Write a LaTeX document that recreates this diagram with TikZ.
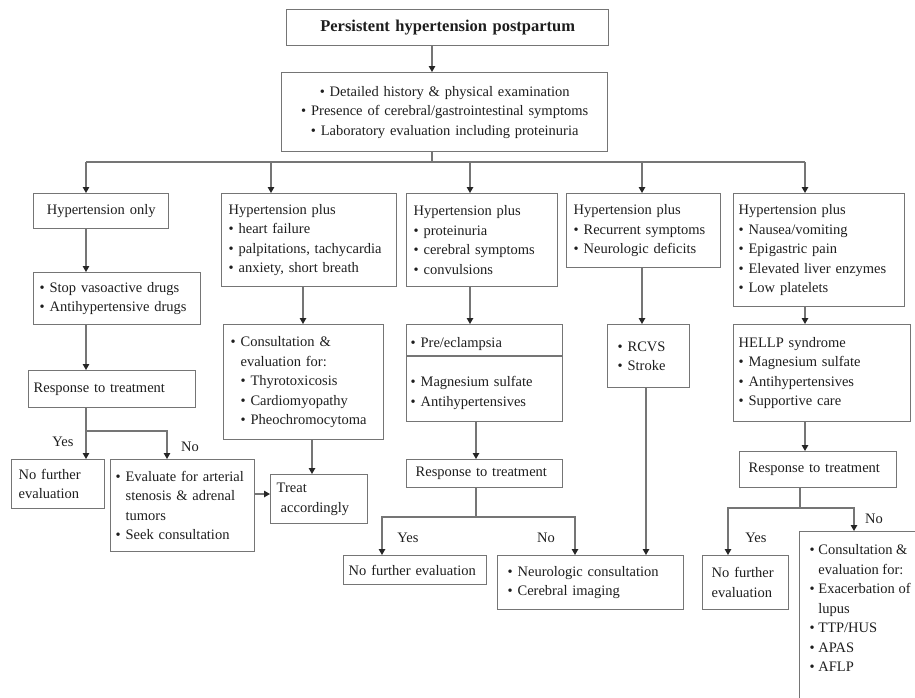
\documentclass[tikz,border=0pt]{standalone}
\usepackage{fontspec}
\setmainfont{Liberation Serif}
\usetikzlibrary{arrows.meta}
\definecolor{linegray}{HTML}{757575}
\definecolor{textgray}{HTML}{1E1E1E}
\newcommand{\bitem}{\textbullet\ }
\newcommand{\bindent}{\phantom{\textbullet\ }}
\tikzset{
    box/.style={draw=linegray,line width=1.4pt,anchor=north west,
        inner xsep=7pt,inner ysep=2pt,align=left,text=textgray,
        font=\fontsize{14.5}{19.5}\selectfont},
    conn/.style={draw=linegray,line width=1.2pt},
    arr/.style={conn,-{Triangle[length=6pt,width=6.5pt,color=black!85]}},
    lab/.style={text=textgray,inner sep=0pt,
        font=\fontsize{14.5}{19.5}\selectfont}
}
\begin{document}
\begin{tikzpicture}[x=1pt,y=-1pt]
    \useasboundingbox (0,0) rectangle (915,697);
    \clip (0,0) rectangle (915,697);
    % column positions
    \coordinate (xH) at (432,0);
    \coordinate (xA) at (86,0);
    \coordinate (xNoA) at (167,0);
    \coordinate (xB0) at (271,0);
    \coordinate (xB) at (303,0);
    \coordinate (xBt) at (312,0);
    \coordinate (xC) at (470,0);
    \coordinate (xC2) at (476,0);
    \coordinate (xYesC) at (382,0);
    \coordinate (xNoC) at (575,0);
    \coordinate (xD) at (642,0);
    \coordinate (xD2) at (646,0);
    \coordinate (xE) at (805,0);
    \coordinate (xE3) at (800,0);
    \coordinate (xYesE) at (728,0);
    \coordinate (xNoE) at (854,0);
    \coordinate (bus) at (0,162);
    \coordinate (busA) at (0,431);
    \coordinate (busC) at (0,517);
    \coordinate (busE) at (0,508);
    \coordinate (divC) at (0,356);
    \coordinate (rowT) at (0,494);

    % top
    \node[box,text width=308pt,minimum height=36pt,align=center,
        font=\fontsize{16.5}{20}\selectfont\bfseries] (top) at (286,9)
        {Persistent hypertension postpartum};
    \node[box,text width=312pt,minimum height=79pt,align=center] (hist) at (281,72)
        {\bitem Detailed history \& physical examination\\
         \bitem Presence of cerebral/gastrointestinal symptoms\\
         \bitem Laboratory evaluation including proteinuria};

    % first row
    \node[box,text width=121pt,minimum height=35pt,align=center] (a1) at (33,193)
        {Hypertension only};
    \node[box,text width=161pt,minimum height=93pt] (b1) at (221,193)
        {Hypertension plus\\\bitem heart failure\\
         \bitem palpitations, tachycardia\\\bitem anxiety, short breath};
    \node[box,text width=137pt,minimum height=93pt] (c1) at (406,193)
        {Hypertension plus\\\bitem proteinuria\\
         \bitem cerebral symptoms\\\bitem convulsions};
    \node[box,text width=140pt,minimum height=74pt] (d1) at (566,193)
        {Hypertension plus\\\bitem Recurrent symptoms\\\bitem Neurologic deficits};
    \node[box,inner xsep=5pt,text width=161pt,minimum height=113pt] (e1) at (733,193)
        {Hypertension plus\\\bitem Nausea/vomiting\\\bitem Epigastric pain\\
         \bitem Elevated liver enzymes\\\bitem Low platelets};

    % column A
    \node[box,inner xsep=6pt,text width=155pt,minimum height=52pt] (a2) at (33,272)
        {\bitem Stop vasoactive drugs\\\bitem Antihypertensive drugs};
    \node[box,inner xsep=5pt,text width=157pt,minimum height=37pt] (a3) at (28,370)
        {Response to treatment};
    \node[box,text width=79pt,minimum height=49pt] (a4) at (11,459)
        {No further\\evaluation};
    \node[box,inner xsep=5pt,text width=134pt,minimum height=92pt] (a5) at (110,459)
        {\bitem Evaluate for arterial\\\bindent stenosis \& adrenal\\
         \bindent tumors\\\bitem Seek consultation};
    \node[box,inner xsep=6pt,text width=85pt,minimum height=49pt] (treat) at (270,474)
        {Treat\\\hspace*{4pt}accordingly};

    % column B
    \node[box,text width=146pt,minimum height=115pt] (b2) at (223,324)
        {\bitem Consultation \&\\\bindent evaluation for:\\
         \bindent\bitem Thyrotoxicosis\\\bindent\bitem Cardiomyopathy\\
         \bindent\bitem Pheochromocytoma};

    % column C
    \node[box,inner xsep=4pt,text width=148pt,minimum height=97pt] (c2) at (406,324)
        {\bitem Pre/eclampsia\\[20pt]\bitem Magnesium sulfate\\\bitem Antihypertensives};
    \node[box,inner xsep=9pt,text width=138pt,minimum height=28pt] (c3) at (406,459)
        {Response to treatment};
    \node[box,inner xsep=5pt,text width=133pt,minimum height=29pt] (c4) at (343,555)
        {No further evaluation};
    \node[box,inner xsep=10pt,text width=166pt,minimum height=54pt] (c5) at (497,555)
        {\bitem Neurologic consultation\\\bitem Cerebral imaging};

    % column D
    \node[box,inner xsep=10pt,text width=62pt,minimum height=63pt] (d2) at (607,324)
        {\bitem RCVS\\\bitem Stroke};

    % column E
    \node[box,inner xsep=5pt,text width=167pt,minimum height=97pt] (e2) at (733,324)
        {HELLP syndrome\\\bitem Magnesium sulfate\\
         \bitem Antihypertensives\\\bitem Supportive care};
    \node[box,inner xsep=9pt,text width=139pt,minimum height=36pt] (e3) at (739,451)
        {Response to treatment};
    \node[box,inner xsep=9pt,text width=68pt,minimum height=54pt] (e4) at (702,555)
        {No further\\evaluation};
    \node[box,inner xsep=10pt,inner ysep=13pt] (e5) at (799,531)
        {\parbox[t][190pt][t]{150pt}{\raggedright
         \bitem Consultation \&\\\bindent evaluation for:\\
         \bitem Exacerbation of\\\bindent lupus\\\bitem TTP/HUS\\
         \bitem APAS\\\bitem AFLP}};

    % labels
    \node[lab] (yesA) at (63,442) {Yes};
    \node[lab] (noA) at (190,447) {No};
    \node[lab] (yesC) at (408,538) {Yes};
    \node[lab] (noC) at (546,538) {No};
    \node[lab] (yesE) at (756,538) {Yes};
    \node[lab] (noE) at (874,519) {No};

    % connectors
    \draw[arr] (top.south -| xH) -- (hist.north -| xH);
    \draw[conn] (hist.south -| xH) -- (bus -| xH);
    \draw[conn] (bus -| xA) -- (bus -| xE);
    \foreach \n/\c in {a1/xA,b1/xB0,c1/xC,d1/xD,e1/xE}
        \draw[arr] (bus -| \c) -- (\n.north -| \c);

    \draw[arr] (a1.south -| xA) -- (a2.north -| xA);
    \draw[arr] (a2.south -| xA) -- (a3.north -| xA);
    \draw[arr] (a3.south -| xA) -- (a4.north -| xA);
    \draw[arr] (busA -| xA) -| (a5.north -| xNoA);
    \draw[arr] (a5.east |- rowT) -- (treat.west |- rowT);

    \draw[arr] (b1.south -| xB) -- (b2.north -| xB);
    \draw[arr] (b2.south -| xBt) -- (treat.north -| xBt);

    \draw[arr] (c1.south -| xC) -- (c2.north -| xC);
    \draw[conn,line width=1.4pt] (c2.west |- divC) -- (c2.east |- divC);
    \draw[arr] (c2.south -| xC2) -- (c3.north -| xC2);
    \draw[conn] (c3.south -| xC2) -- (busC -| xC2);
    \draw[arr] (busC -| xC2) -| (c4.north -| xYesC);
    \draw[arr] (busC -| xC2) -| (c5.north -| xNoC);

    \draw[arr] (d1.south -| xD) -- (d2.north -| xD);
    \draw[arr] (d2.south -| xD2) -- (c5.north -| xD2);

    \draw[arr] (e1.south -| xE) -- (e2.north -| xE);
    \draw[arr] (e2.south -| xE) -- (e3.north -| xE);
    \draw[conn] (e3.south -| xE3) -- (busE -| xE3);
    \draw[arr] (busE -| xE3) -| (e4.north -| xYesE);
    \draw[arr] (busE -| xE3) -| (e5.north -| xNoE);
\end{tikzpicture}
\end{document}
